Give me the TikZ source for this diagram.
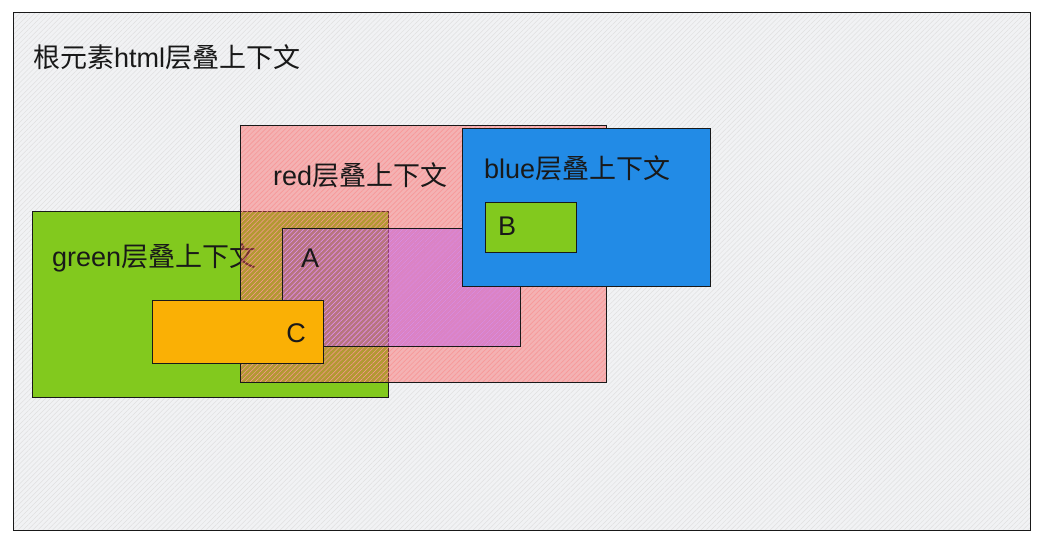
\documentclass[tikz,border=0pt]{standalone}
\usepackage{fontspec}
\setmainfont{Liberation Sans}
\newfontfamily\cjk{Noto Sans CJK SC}
\usepackage{tikz}
\usetikzlibrary{positioning,patterns.meta}
\definecolor{ctxGray}{HTML}{F1F2F4}
\definecolor{ctxRed}{HTML}{FA5252}
\definecolor{ctxBlue}{HTML}{228BE6}
\definecolor{ctxGreen}{HTML}{82C91E}
\definecolor{ctxOrange}{HTML}{FAB005}
\definecolor{ctxPurple}{HTML}{BE4BDB}
\tikzset{
  layer/.style={draw=black!90, line width=1.3pt, anchor=north west, inner sep=0pt},
  hatch/.style={postaction={pattern={Lines[angle=45,distance=3.5pt,line width=0.5pt]}, pattern color=#1},
    postaction={draw=black!90, line width=1.3pt, draw opacity=1}},
  ctxLabel/.style={anchor=west, inner sep=0pt, font=\fontsize{27}{30}\selectfont, text=black!90},
  boxLabel/.style={inner sep=0pt, font=\fontsize{27}{30}\selectfont, text=black!90}
}

\begin{document}
\begin{tikzpicture}[x=1pt, y=-1pt]
  \useasboundingbox (0,0) rectangle (1038,543);
  % root html context
  \node[layer, fill=ctxGray, hatch=black!12, minimum width=1017pt, minimum height=518pt] (root) at (13,12) {};
  \node[ctxLabel] (rootText) at (33,57) {{\cjk 根元素}html{\cjk 层叠上下文}};
  % green context
  \node[layer, fill=ctxGreen, minimum width=356pt, minimum height=186pt] (green) at (32,211) {};
  \node[ctxLabel] (greenText) at (52,258) {green{\cjk 层叠上下文}};
  % red context
  \node[layer, fill=ctxRed, fill opacity=0.4, draw opacity=1, hatch=ctxRed!60, minimum width=366pt, minimum height=257pt] (red) at (240,125) {};
  \node[ctxLabel] (redText) at (273,175) {red{\cjk 层叠上下文}};
  % A inside red
  \node[layer, fill=ctxPurple, fill opacity=0.45, draw opacity=1, hatch=ctxPurple!60, minimum width=238pt, minimum height=118pt] (boxA) at (282,228) {};
  \node[boxLabel] (textA) at (310,258) {A};
  % C inside green
  \node[layer, fill=ctxOrange, minimum width=171pt, minimum height=63pt] (boxC) at (152,300) {};
  \node[boxLabel] (textC) at (296,333) {C};
  % blue context
  \node[layer, fill=ctxBlue, minimum width=248pt, minimum height=158pt] (blue) at (462,128) {};
  \node[ctxLabel] (blueText) at (484,168) {blue{\cjk 层叠上下文}};
  \node[layer, fill=ctxGreen, minimum width=91pt, minimum height=50pt] (boxB) at (485,202) {};
  \node[boxLabel] (textB) at (507,226) {B};
\end{tikzpicture}
\end{document}
